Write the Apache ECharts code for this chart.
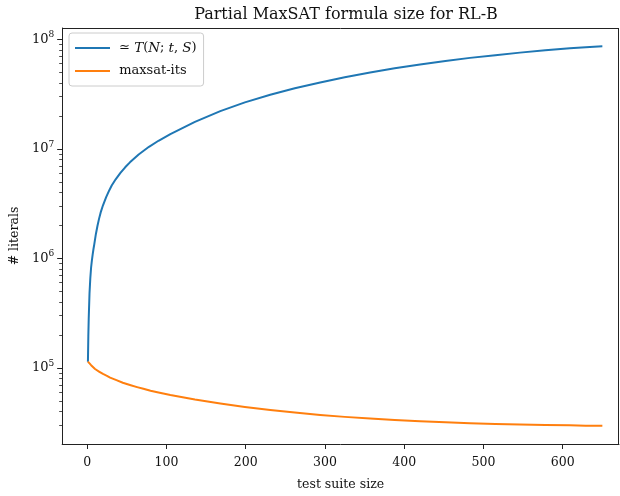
<!DOCTYPE html>
<html>
<head>
<meta charset="utf-8">
<script src="https://cdn.jsdelivr.net/npm/echarts@6/dist/echarts.min.js"></script>
<style>
html,body{margin:0;padding:0;background:#fff;}
#main{width:620px;height:496px;}
</style>
</head>
<body>
<div id="main"></div>
<script>
// ---- data ----
var titleText = 'Partial MaxSAT formula size for RL-B';
var xLabel = 'test suite size';
var yLabel = '# literals';
var seriesNames = ['\u2243 T(N;t,S)', 'maxsat-its'];

var blueX = [1, 1.5, 2, 3, 4, 5, 6, 7, 8, 9, 11, 13, 15, 17, 20, 24, 28, 31, 36, 42, 48, 54, 65, 78, 90, 105, 136, 168, 199, 231, 262, 294, 325, 357, 388, 420, 452, 483, 515, 546, 578, 609, 629, 650];
var blueY = [1.140e5, 1.941e5, 2.825e5, 4.808e5, 6.592e5, 8.260e5, 9.616e5, 1.091e6, 1.219e6, 1.343e6,
  1.663e6, 1.977e6, 2.296e6, 2.618e6, 3.055e6, 3.631e6, 4.198e6, 4.624e6, 5.272e6, 6.039e6,
  6.792e6, 7.534e6, 8.892e6, 1.045e7, 1.186e7, 1.365e7, 1.762e7, 2.213e7, 2.658e7, 3.126e7,
  3.581e7, 4.046e7, 4.519e7, 4.977e7, 5.445e7, 5.902e7, 6.353e7, 6.776e7, 7.178e7, 7.568e7,
  7.943e7, 8.279e7, 8.492e7, 8.670e7];

var orangeX = [1, 3, 5, 10, 15, 20, 25, 29, 37, 45, 55, 63, 71, 80, 90, 105, 136, 168, 199, 231, 262, 294, 325, 357, 388, 420, 452, 483, 515, 546, 578, 609, 629, 650];
var orangeY = [1.140e5, 1.096e5, 1.059e5, 9.772e4, 9.268e4, 8.810e4, 8.472e4, 8.166e4, 7.727e4, 7.328e4,
  6.950e4, 6.683e4, 6.442e4, 6.194e4, 5.970e4, 5.649e4, 5.152e4, 4.742e4, 4.406e4, 4.130e4,
  3.908e4, 3.715e4, 3.573e4, 3.451e4, 3.350e4, 3.258e4, 3.189e4, 3.126e4, 3.080e4, 3.041e4,
  3.010e4, 2.989e4, 2.972e4, 2.958e4];

var xTicks = [0, 100, 200, 300, 400, 500, 600];
var yMajorTicks = [1e5, 1e6, 1e7, 1e8];
var yMinorTicks = [3e4, 4e4, 5e4, 6e4, 7e4, 8e4, 9e4,
  2e5, 3e5, 4e5, 5e5, 6e5, 7e5, 8e5, 9e5,
  2e6, 3e6, 4e6, 5e6, 6e6, 7e6, 8e6, 9e6,
  2e7, 3e7, 4e7, 5e7, 6e7, 7e7, 8e7, 9e7];

function zip(xs, ys) { return xs.map(function (x, i) { return [x, ys[i]]; }); }

var FONT = 'DejaVu Serif';
var AX = '#222';
var yMin = 2.02e4, yMax = 1.27e8;

var chart = echarts.init(document.getElementById('main'), null, {renderer: 'canvas'});
chart.setOption({
  backgroundColor: '#fff',
  animation: false,
  title: {
    text: titleText,
    left: 341, textAlign: 'center', top: 2,
    textStyle: {fontFamily: FONT, fontSize: 16, fontWeight: 'normal', color: '#111'}
  },
  legend: {
    left: 69, top: 33,
    orient: 'vertical',
    itemGap: 7,
    padding: [7, 7, 7, 6],
    icon: 'rect',
    itemWidth: 35, itemHeight: 2,
    borderColor: '#ccc', borderWidth: 1, borderRadius: 3,
    backgroundColor: 'rgba(255,255,255,0.8)',
    textStyle: {
      fontFamily: FONT, fontSize: 13, color: '#111', lineHeight: 16,
      rich: {
        r: {fontFamily: FONT, fontSize: 13, color: '#111', lineHeight: 16},
        i: {fontFamily: FONT, fontSize: 13.5, fontStyle: 'italic', color: '#111', lineHeight: 16}
      }
    },
    formatter: function (name) {
      if (name === seriesNames[0]) {
        return '{r| \u2243 }{i|T}{r|(}{i|N}{r|; }{i|t}{r|, }{i|S}{r|)}';
      }
      return '{r| ' + name + '}';
    },
    data: seriesNames
  },
  grid: {left: 62, top: 28, right: 1, bottom: 49, containLabel: false},
  xAxis: {
    type: 'value',
    min: -31.5, max: 671,
    name: xLabel, nameLocation: 'middle', nameGap: 34,
    nameTextStyle: {fontFamily: FONT, fontSize: 12.5, color: '#111'},
    axisLine: {show: true, onZero: false, lineStyle: {color: AX, width: 1}},
    axisTick: {show: true, length: 5, inside: false, customValues: xTicks, lineStyle: {color: AX, width: 1}},
    axisLabel: {customValues: xTicks, margin: 12, fontFamily: FONT, fontSize: 12.5, color: '#111'},
    splitLine: {show: false}
  },
  yAxis: [{
    type: 'log', logBase: 10,
    min: yMin, max: yMax,
    name: yLabel, nameLocation: 'middle', nameGap: 38, nameRotate: 90,
    nameTextStyle: {fontFamily: FONT, fontSize: 12.5, color: '#111'},
    axisLine: {show: true, onZero: false, lineStyle: {color: AX, width: 1}},
    axisTick: {show: true, length: 5, customValues: yMajorTicks, lineStyle: {color: AX, width: 1}},
    axisLabel: {
      customValues: yMajorTicks, margin: 8,
      formatter: function (v) {
        var e = Math.round(Math.log10(v));
        return '{b|10}{s|' + e + '}';
      },
      rich: {
        b: {fontFamily: FONT, fontSize: 13, color: '#111'},
        s: {fontFamily: FONT, fontSize: 9, color: '#111', verticalAlign: 'top', padding: [0, 0, 9, 0]}
      }
    },
    splitLine: {show: false}
  }, {
    type: 'log', logBase: 10,
    min: yMin, max: yMax,
    position: 'left',
    axisLine: {show: false, onZero: false},
    axisTick: {show: true, length: 3, customValues: yMinorTicks, lineStyle: {color: AX, width: 0.8}},
    axisLabel: {show: false},
    splitLine: {show: false}
  }],
  series: [{
    name: seriesNames[0], type: 'line',
    data: zip(blueX, blueY),
    showSymbol: false, symbol: 'none', smooth: false,
    lineStyle: {color: '#1f77b4', width: 2, join: 'round'},
    itemStyle: {color: '#1f77b4'},
    z: 3
  }, {
    name: seriesNames[1], type: 'line',
    data: zip(orangeX, orangeY),
    showSymbol: false, symbol: 'none', smooth: false,
    lineStyle: {color: '#ff7f0e', width: 2, join: 'round'},
    itemStyle: {color: '#ff7f0e'},
    z: 4
  }, {
    type: 'custom', silent: true, z: 1,
    data: [[0, 1e5]],
    renderItem: function (params, api) {
      var cs = params.coordSys;
      return {
        type: 'group',
        children: [
          {type: 'line', shape: {x1: cs.x, y1: cs.y + 0.5, x2: cs.x + cs.width, y2: cs.y + 0.5}, style: {stroke: AX, lineWidth: 1}},
          {type: 'line', shape: {x1: cs.x + cs.width - 0.5, y1: cs.y, x2: cs.x + cs.width - 0.5, y2: cs.y + cs.height}, style: {stroke: AX, lineWidth: 1}}
        ]
      };
    }
  }]
});
</script>
</body>
</html>
